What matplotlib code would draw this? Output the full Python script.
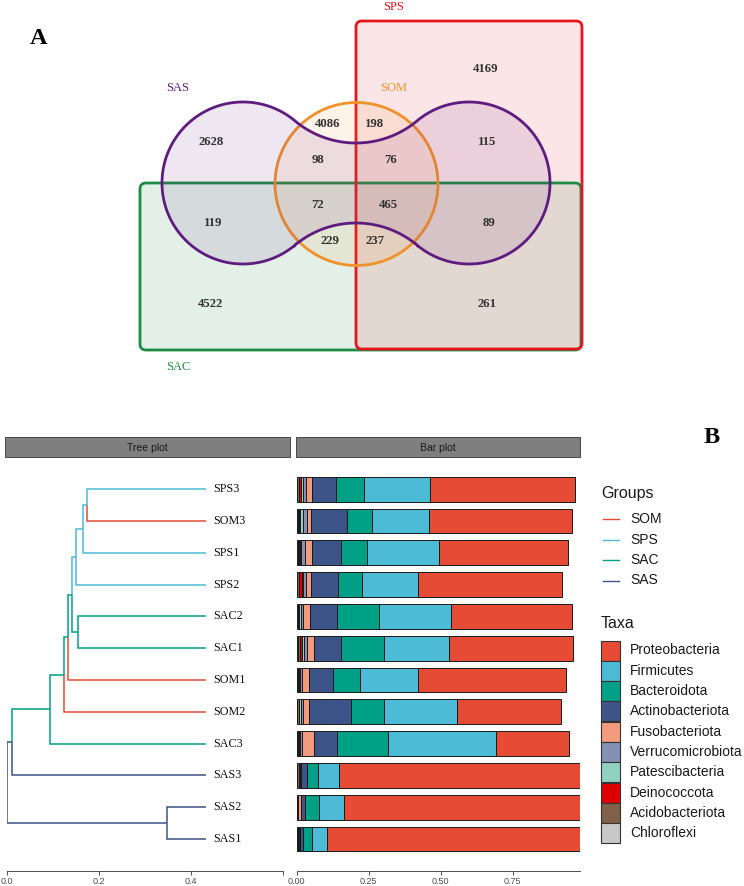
import numpy as np
import matplotlib
matplotlib.use("Agg")
import matplotlib.pyplot as plt
from matplotlib.patches import FancyBboxPatch, Circle, Polygon, Rectangle

plt.rcParams['font.family'] = ['Liberation Sans', 'DejaVu Sans']
SERIF = ['Liberation Serif', 'DejaVu Serif']

W, H = 744, 886

# ---------------- panel A : venn ----------------
venn_sets = ["SAS", "SOM", "SPS", "SAC"]
venn_colors = ["#5E1B80", "#F0922A", "#E8141C", "#1E8B45"]
venn_counts = [2628, 4086, 198, 4169, 115, 98, 76, 72, 465, 119, 89, 229, 237, 4522, 261]
# where each count sits (figure pixels)
venn_count_xy = [(211, 142), (328, 124), (375, 124), (486, 69), (487, 142),
                 (318, 160), (391, 160), (318, 205), (388, 205), (213, 223),
                 (489, 223), (330, 241), (375, 241), (211, 304), (487, 304)]

# ---------------- panel B : tree + bars ----------------
# samples bottom -> top
samples = ["SAS1", "SAS2", "SAS3", "SAC3", "SOM2", "SOM1",
           "SAC1", "SAC2", "SPS2", "SPS1", "SOM3", "SPS3"]
groups = ["SOM", "SPS", "SAC", "SAS"]
group_colors = ["#E64B35", "#4DBBD5", "#00A087", "#3C5488"]

tip_depth = 0.433
# (node, child a, child b, depth, group colour of the node)
tree_nodes = [
    ("n1", "SPS3", "SOM3", 0.174, "SPS"),
    ("n2", "n1", "SPS1", 0.165, "SPS"),
    ("n3", "n2", "SPS2", 0.151, "SPS"),
    ("n4", "SAC2", "SAC1", 0.154, "SAC"),
    ("n5", "n3", "n4", 0.142, "SAC"),
    ("n6", "n5", "SOM1", 0.133, "SAC"),
    ("n7", "n6", "SOM2", 0.125, "SAC"),
    ("n8", "n7", "SAC3", 0.093, "SAC"),
    ("n9", "n8", "SAS3", 0.011, "SAS"),
    ("n10", "SAS2", "SAS1", 0.349, "SAS"),
    ("root", "n9", "n10", 0.0015, "SAS"),
]

taxa = ["Proteobacteria", "Firmicutes", "Bacteroidota", "Actinobacteriota",
        "Fusobacteriota", "Verrucomicrobiota", "Patescibacteria",
        "Deinococcota", "Acidobacteriota", "Chloroflexi"]
taxa_colors = ["#E64B35", "#4DBBD5", "#00A087", "#3C5488", "#F39B7F",
               "#8491B4", "#91D1C2", "#DC0000", "#7E6148", "#C8C8C8"]

proteo = [0.895, 0.835, 0.855, 0.253, 0.362, 0.513, 0.431, 0.420, 0.501, 0.448, 0.497, 0.501]
firmic = [0.050, 0.087, 0.073, 0.374, 0.253, 0.204, 0.227, 0.247, 0.192, 0.252, 0.199, 0.231]
bacter = [0.032, 0.050, 0.038, 0.180, 0.113, 0.091, 0.150, 0.149, 0.084, 0.091, 0.086, 0.098]
actino = [0.012, 0.014, 0.018, 0.077, 0.145, 0.086, 0.092, 0.091, 0.095, 0.100, 0.125, 0.082]
fuso = [0.002, 0.010, 0.002, 0.043, 0.024, 0.023, 0.023, 0.024, 0.016, 0.025, 0.015, 0.021]
verru = [0.002, 0.0005, 0.003, 0.007, 0.007, 0.007, 0.013, 0.008, 0.010, 0.012, 0.012, 0.011]
pates = [0.001, 0.0005, 0.002, 0.004, 0.005, 0.004, 0.006, 0.006, 0.005, 0.005, 0.010, 0.008]
deino = [0.001, 0.001, 0.001, 0.002, 0.002, 0.002, 0.008, 0.002, 0.012, 0.003, 0.003, 0.006]
acido = [0.002, 0.001, 0.007, 0.003, 0.004, 0.003, 0.005, 0.004, 0.004, 0.004, 0.004, 0.005]
chloro = [0.003, 0.001, 0.002, 0.003, 0.003, 0.003, 0.006, 0.004, 0.003, 0.004, 0.006, 0.003]
taxa_values = [proteo, firmic, bacter, actino, fuso, verru, pates, deino, acido, chloro]


def fig_rect(x0, y0, x1, y1):
    # pixel box (top-left origin) -> figure fraction
    return [x0 / W, 1 - y1 / H, (x1 - x0) / W, (y1 - y0) / H]


fig = plt.figure(figsize=(W / 100, H / 100), dpi=100)
ax0 = fig.add_axes([0, 0, 1, 1])
ax0.set_xlim(0, W)
ax0.set_ylim(H, 0)
ax0.axis('off')

# --- venn shapes
sac = FancyBboxPatch((140, 183), 441, 167, boxstyle="round,pad=0,rounding_size=6",
                     fc=venn_colors[3], ec='none', alpha=0.12)
sps = FancyBboxPatch((356, 21), 226, 328, boxstyle="round,pad=0,rounding_size=6",
                     fc=venn_colors[2], ec='none', alpha=0.11)
ax0.add_patch(sac)
ax0.add_patch(sps)
ax0.add_patch(FancyBboxPatch((140, 183), 441, 167, boxstyle="round,pad=0,rounding_size=6",
                             fc='none', ec=venn_colors[3], lw=2.0))
ax0.add_patch(FancyBboxPatch((356, 21), 226, 328, boxstyle="round,pad=0,rounding_size=6",
                             fc='none', ec=venn_colors[2], lw=2.0))

som = Circle((356.5, 184), 81.5, fc=venn_colors[1], alpha=0.1, ec='none')
ax0.add_patch(som)
ax0.add_patch(Circle((356.5, 184), 81.5, fc='none', ec=venn_colors[1], lw=2.0))

# SAS: two lobes joined by a waist
cl, cr, r, neck = (243.0, 183.0), (469.0, 183.0), 81.0, 40.0
cy = cl[1]
mx = (cl[0] + cr[0]) / 2
dx = mx - cl[0]
R = (dx ** 2 + neck ** 2 - r ** 2) / (2 * (r - neck))
phi = np.arctan2(neck + R, dx)
t1 = np.linspace(-phi, phi - 2 * np.pi, 200)
t2 = np.linspace(phi - np.pi, -phi, 80)
t3 = np.linspace(np.pi - phi, phi - np.pi, 200)
t4 = np.linspace(phi, np.pi - phi, 80)
pts = np.vstack([
    np.c_[cl[0] + r * np.cos(t1), cy + r * np.sin(t1)],
    np.c_[mx + R * np.cos(t2), cy + neck + R + R * np.sin(t2)],
    np.c_[cr[0] + r * np.cos(t3), cy + r * np.sin(t3)],
    np.c_[mx + R * np.cos(t4), cy - neck - R + R * np.sin(t4)],
])
ax0.add_patch(Polygon(pts, closed=True, fc=venn_colors[0], alpha=0.1, ec='none'))
ax0.add_patch(Polygon(pts, closed=True, fc='none', ec=venn_colors[0], lw=2.0))

for n, (x, y) in zip(venn_counts, venn_count_xy):
    ax0.text(x, y, str(n), ha='center', va='center', fontsize=9.2, fontweight='bold',
             color='#333333', family=SERIF)

set_label_xy = [(178, 88), (394, 88), (394, 7), (178, 367)]
for name, col, (x, y) in zip(venn_sets, venn_colors, set_label_xy):
    ax0.text(x, y, name, ha='center', va='center', fontsize=9, color=col, family=SERIF)

ax0.text(39, 38, "A", ha='center', va='center', fontsize=17.5, fontweight='bold', family=SERIF)
ax0.text(712, 437, "B", ha='center', va='center', fontsize=17.5, fontweight='bold', family=SERIF)

# --- strips
for (x0, x1), lab in [((5, 290), "Tree plot"), ((296, 580), "Bar plot")]:
    ax0.add_patch(Rectangle((x0, 437), x1 - x0, 20, fc='#7F7F7F', ec='#333333', lw=0.6))
    ax0.text((x0 + x1) / 2, 447.5, lab, ha='center', va='center', fontsize=7.5, color='#1A1A1A')

# --- tree
gcol = dict(zip(groups, group_colors))
ypos = {s: i for i, s in enumerate(samples)}
xpos = {s: tip_depth for s in samples}
ngroup = {s: s[:3] for s in samples}
for name, a, b, d, g in tree_nodes:
    ypos[name] = (ypos[a] + ypos[b]) / 2
    xpos[name] = d
    ngroup[name] = g

axt = fig.add_axes(fig_rect(6.7, 460, 283, 870.7))
axt.patch.set_alpha(0)
for name, a, b, d, g in tree_nodes:
    for c in (a, b):
        col = gcol[ngroup[c]]
        axt.plot([d, d, xpos[c]], [ypos[name], ypos[c], ypos[c]], color=col, lw=1.1,
                 solid_joinstyle='miter', solid_capstyle='butt')
for s in samples:
    axt.text(tip_depth + 0.015, ypos[s], s, va='center', ha='left', fontsize=8.7, family=SERIF,
             color='#111111')
axt.set_xlim(0, 0.6)
axt.set_ylim(-1.0, 11.92)
axt.set_xticks([0, 0.2, 0.4, 0.6])
axt.set_xticklabels(["0.0", "0.2", "0.4", ""])
axt.set_yticks([])

# --- bars
axb = fig.add_axes(fig_rect(296.5, 460, 580, 870.7))
axb.patch.set_alpha(0)
left = np.zeros(len(samples))
for name, col, vals in zip(taxa[::-1], taxa_colors[::-1], taxa_values[::-1]):
    vals = np.array(vals)
    axb.barh(np.arange(len(samples)), vals, left=left, height=0.78, color=col,
             edgecolor='#1A1A1A', linewidth=0.7)
    left += vals
axb.set_xlim(0, 0.984)
axb.set_ylim(-1.0, 11.92)
axb.set_xticks([0, 0.25, 0.5, 0.75])
axb.set_xticklabels(["0.00", "0.25", "0.50", "0.75"])
axb.set_yticks([])

for ax in (axt, axb):
    for sp in ('top', 'right', 'left'):
        ax.spines[sp].set_visible(False)
    ax.spines['bottom'].set_color('#333333')
    ax.spines['bottom'].set_linewidth(0.6)
    ax.tick_params(axis='x', length=3, width=0.6, color='#333333', labelsize=6.5,
                   labelcolor='#4D4D4D', pad=1.5)

# --- legends
ax0.text(601, 493, "Groups", ha='left', va='center', fontsize=11.5, color='#1A1A1A')
for i, (g, col) in enumerate(zip(groups, group_colors)):
    y = 519 + i * 20.5
    ax0.plot([603, 619], [y, y], color=col, lw=1.0)
    ax0.text(630, y, g, ha='left', va='center', fontsize=10, color='#1A1A1A')

ax0.text(601, 623, "Taxa", ha='left', va='center', fontsize=11.5, color='#1A1A1A')
for i, (tx, col) in enumerate(zip(taxa, taxa_colors)):
    y = 650.5 + i * 20.3
    ax0.add_patch(Rectangle((601, y - 10), 19, 20, fc=col, ec='#333333', lw=0.8))
    ax0.text(630, y, tx, ha='left', va='center', fontsize=10, color='#1A1A1A')

fig.savefig("out.png", dpi=100)
